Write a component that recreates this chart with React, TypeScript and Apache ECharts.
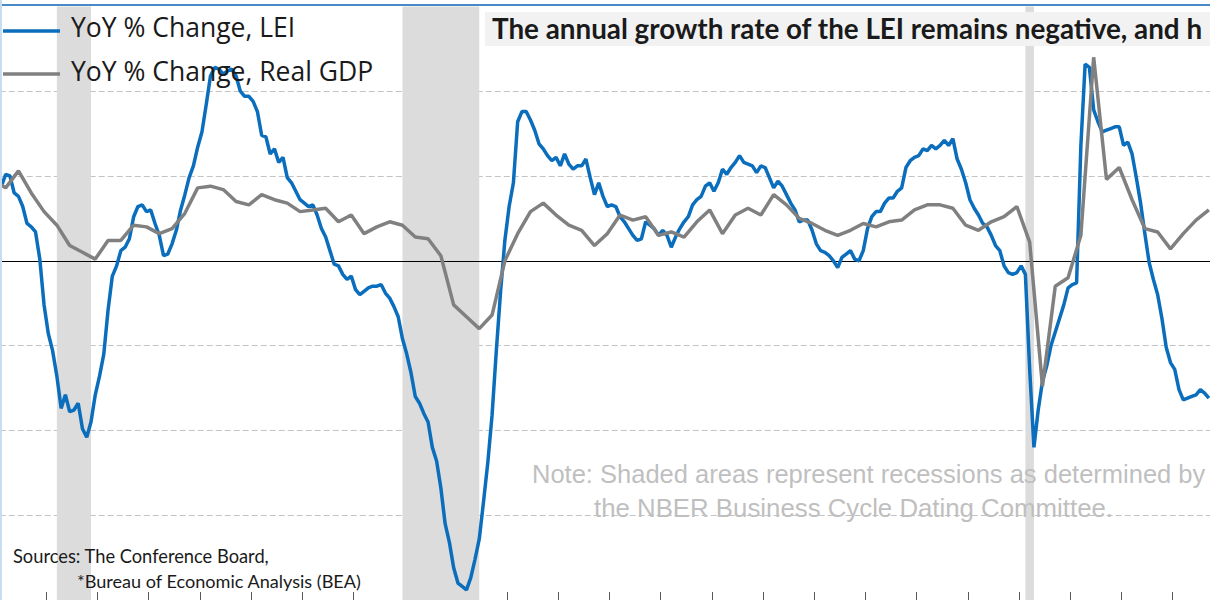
import React, { useEffect, useRef } from "react";
import * as echarts from "echarts";

// ---- LEI, YoY % change, monthly (Dec 1999 .. Sep 2023) ----
const lei1999 = [5.6];
const lei2000 = [5.8, 4.4, 5.1, 5.0, 4.0, 3.8, 3.2, 2.2, 2.0, 1.7, 0.1, -2.6];
const lei2001 = [-4.3, -5.3, -6.8, -8.7, -7.9, -8.9, -8.8, -8.4, -9.9, -10.4, -9.5, -7.9];
const lei2002 = [-6.8, -5.5, -2.9, -0.9, -0.3, 0.6, 0.8, 1.3, 2.6, 3.2, 3.3, 2.9];
const lei2003 = [3.0, 2.2, 1.5, 0.3, 0.4, 1.0, 1.8, 3.0, 3.9, 4.9, 5.6, 6.7];
const lei2004 = [7.6, 9.2, 10.9, 11.4, 11.3, 11.0, 11.2, 11.3, 10.9, 10.0, 9.7, 9.7];
const lei2005 = [9.4, 8.8, 7.4, 7.3, 6.3, 6.6, 5.8, 6.1, 4.9, 4.6, 4.1, 3.6];
const lei2006 = [3.4, 3.2, 3.3, 2.7, 1.9, 1.4, 0.6, -0.2, -0.3, -0.8, -1.1, -0.9];
const lei2007 = [-1.7, -2.0, -1.8, -1.6, -1.5, -1.5, -1.4, -1.9, -2.2, -2.7, -3.3, -4.6];
const lei2008 = [-5.5, -6.6, -8.0, -8.4, -9.0, -9.5, -11.0, -11.8, -13.4, -15.5, -16.6, -18.1];
const lei2009 = [-19.0, -19.2, -19.4, -18.7, -17.6, -16.4, -14.2, -11.9, -9.1, -5.3, -1.8, 1.2];
const lei2010 = [3.2, 4.6, 8.2, 8.8, 8.8, 8.3, 7.7, 6.9, 6.6, 6.2, 5.9, 6.1];
const lei2011 = [5.6, 6.3, 5.7, 5.4, 5.6, 5.6, 6.0, 4.9, 3.9, 4.6, 3.8, 3.2];
const lei2012 = [3.3, 3.2, 2.6, 2.3, 1.9, 1.5, 1.2, 1.3, 2.3, 2.1, 1.9, 1.5];
const lei2013 = [1.8, 1.5, 0.8, 1.4, 1.9, 2.3, 2.6, 3.3, 3.6, 3.8, 4.4, 4.6];
const lei2014 = [4.1, 4.6, 5.4, 5.1, 5.5, 5.8, 6.2, 5.8, 5.7, 5.6, 5.2, 5.6];
const lei2015 = [5.5, 4.9, 4.3, 4.7, 4.4, 3.9, 3.4, 3.0, 2.3, 2.4, 2.4, 1.8];
const lei2016 = [1.0, 0.6, 0.5, 0.3, 0.0, -0.4, 0.2, 0.4, 0.6, 0.1, 0.0, 0.6];
const lei2017 = [1.9, 2.6, 2.9, 2.9, 3.4, 3.7, 3.7, 4.1, 4.3, 5.5, 5.9, 6.1];
const lei2018 = [6.2, 6.6, 6.5, 6.8, 6.6, 6.8, 7.1, 6.8, 7.2, 6.0, 5.4, 4.6];
const lei2019 = [3.6, 3.1, 2.7, 2.2, 2.0, 1.5, 0.9, 0.6, -0.3, -0.7, -0.8, -0.7];
const lei2020 = [-0.3, -0.8, -6.4, -11.0, -8.8, -7.1, -6.2, -5.0, -4.2, -3.4, -2.6, -1.6];
const lei2021 = [-1.4, -1.3, 6.8, 11.6, 11.4, 8.9, 8.2, 7.6, 7.7, 7.8, 7.9, 7.9];
const lei2022 = [6.8, 7.0, 6.3, 4.9, 3.4, 1.6, -0.1, -1.1, -2.0, -3.4, -5.1, -6.0];
const lei2023 = [-6.4, -7.6, -8.2, -8.1, -8.0, -7.9, -7.6, -7.8, -8.1];

// ---- Real GDP, YoY % change, quarterly (Dec 1999 .. Sep 2023) ----
const gdp1999 = [4.8];
const gdp2000 = [4.3, 5.3, 4.0, 2.9];
const gdp2001 = [2.1, 0.9, 0.5, 0.1];
const gdp2002 = [1.2, 1.2, 2.1, 2.0];
const gdp2003 = [1.6, 1.9, 2.8, 4.3];
const gdp2004 = [4.4, 4.2, 3.5, 3.3];
const gdp2005 = [3.9, 3.6, 3.4, 2.9];
const gdp2006 = [3.0, 3.1, 2.3, 2.7];
const gdp2007 = [1.6, 2.0, 2.3, 2.1];
const gdp2008 = [1.4, 1.3, 0.3, -2.6];
const gdp2009 = [-3.3, -4.0, -3.2, 0.0];
const gdp2010 = [1.6, 2.9, 3.4, 2.7];
const gdp2011 = [2.1, 1.8, 0.9, 1.6];
const gdp2012 = [2.7, 2.4, 2.6, 1.5];
const gdp2013 = [1.7, 1.4, 2.3, 3.0];
const gdp2014 = [1.6, 2.7, 3.1, 2.7];
const gdp2015 = [3.9, 3.3, 2.5, 2.2];
const gdp2016 = [1.8, 1.5, 1.8, 2.2];
const gdp2017 = [2.0, 2.3, 2.4, 3.0];
const gdp2018 = [3.3, 3.3, 3.1, 2.1];
const gdp2019 = [1.8, 2.3, 2.6, 3.2];
const gdp2020 = [1.1, -7.4, -1.5, -1.0];
const gdp2021 = [1.5, 12.0, 4.8, 5.5];
const gdp2022 = [3.6, 1.9, 1.7, 0.7];
const gdp2023 = [1.6, 2.4, 3.0];

// NBER recessions (first and last month)
const recessionStarts = ["2001-03", "2007-12", "2020-02"];
const recessionEnds = ["2001-11", "2009-06", "2020-04"];

// y axis
const yMin = -20;
const yMax = 15;
const yStep = 5;

const legendLabels = ["YoY % Change, LEI", "YoY % Change, Real GDP"];
const titleText = "The annual growth rate of the LEI remains negative, and h";
const noteLines = [
  "Note: Shaded areas represent recessions as determined by",
  "the NBER Business Cycle Dating Committee.",
];
const sourceLines = ["Sources: The Conference Board,", "*Bureau of Economic Analysis (BEA)"];

const LEI_COLOR = "#0A6EBD";
const GDP_COLOR = "#808080";

const pad = (n: number) => (n < 10 ? "0" + n : "" + n);

const leiYears = [
  lei1999, lei2000, lei2001, lei2002, lei2003, lei2004, lei2005, lei2006, lei2007,
  lei2008, lei2009, lei2010, lei2011, lei2012, lei2013, lei2014, lei2015, lei2016,
  lei2017, lei2018, lei2019, lei2020, lei2021, lei2022, lei2023,
];
const gdpYears: [number, number[]][] = [
  [1999, gdp1999], [2000, gdp2000], [2001, gdp2001], [2002, gdp2002], [2003, gdp2003],
  [2004, gdp2004], [2005, gdp2005], [2006, gdp2006], [2007, gdp2007], [2008, gdp2008],
  [2009, gdp2009], [2010, gdp2010], [2011, gdp2011], [2012, gdp2012], [2013, gdp2013],
  [2014, gdp2014], [2015, gdp2015], [2016, gdp2016], [2017, gdp2017], [2018, gdp2018],
  [2019, gdp2019], [2020, gdp2020], [2021, gdp2021], [2022, gdp2022], [2023, gdp2023],
];

const leiValues: number[] = ([] as number[]).concat(...leiYears);
const firstMonthIndex = 1999 * 12 + 11; // Dec 1999
const categories = leiValues.map((_, i) => {
  const t = firstMonthIndex + i;
  return `${Math.floor(t / 12)}-${pad((t % 12) + 1)}`;
});
const gdpMap = new Map<string, number>();
gdpYears.forEach(([y, arr]) => {
  const months = y === 1999 ? [12] : [3, 6, 9, 12];
  arr.forEach((v, i) => gdpMap.set(`${y}-${pad(months[i])}`, v));
});
const gdpValues = categories.map((c) => (gdpMap.has(c) ? (gdpMap.get(c) as number) : null));

// the chart canvas is wider than the page and shifted left, so that the
// first (partly hidden) month starts just outside the visible frame
const SHIFT = 10;

export default function App() {
  const ref = useRef<HTMLDivElement>(null);
  useEffect(() => {
    if (!ref.current) return;
    const chart = echarts.init(ref.current, undefined, { renderer: "svg" });
    const legendFont = "26.5px 'Open Sans'";
    const X = (x: number) => x + SHIFT;
    chart.setOption({
      animation: false,
      backgroundColor: "#ffffff",
      grid: { left: SHIFT - 9.27, right: 0, top: 6.4, bottom: 0, containLabel: false },
      xAxis: {
        type: "category",
        data: categories,
        boundaryGap: true,
        axisLine: { show: false, onZero: false },
        axisLabel: { show: false },
        axisTick: {
          show: true,
          inside: true,
          length: 8,
          interval: (_i: number, v: string) => v.endsWith("-01"),
          lineStyle: { color: "#595959", width: 1 },
        },
        splitLine: { show: false },
      },
      yAxis: {
        type: "value",
        min: yMin,
        max: yMax,
        interval: yStep,
        axisLine: { show: false },
        axisTick: { show: false },
        axisLabel: { show: false },
        splitLine: {
          show: true,
          showMinLine: false,
          showMaxLine: false,
          lineStyle: { color: "#C3C3C3", width: 1, type: [6, 3] },
        },
      },
      series: [
        {
          name: legendLabels[0],
          type: "line",
          data: leiValues,
          symbol: "none",
          z: 3,
          lineStyle: { color: LEI_COLOR, width: 3.5 },
          itemStyle: { color: LEI_COLOR },
          markArea: {
            silent: true,
            itemStyle: { color: "#DCDCDC" },
            data: recessionStarts.map((s, i) => [{ xAxis: s }, { xAxis: recessionEnds[i] }]),
          },
        },
        {
          name: legendLabels[1],
          type: "line",
          data: gdpValues,
          connectNulls: true,
          symbol: "none",
          z: 4,
          lineStyle: { color: GDP_COLOR, width: 3.5 },
          itemStyle: { color: GDP_COLOR },
          markLine: {
            silent: true,
            z: 2,
            symbol: "none",
            label: { show: false },
            lineStyle: { color: "#000000", width: 1, type: "solid" },
            data: [{ yAxis: 0 }],
          },
        },
      ],
      graphic: [
        { type: "rect", z: 100, shape: { x: X(0), y: 4, width: 1210, height: 2 }, style: { fill: "#4A89C8" } },
        { type: "rect", z: 100, shape: { x: X(0), y: 0, width: 2, height: 600 }, style: { fill: "#C9DDF0" } },
        { type: "rect", z: 90, shape: { x: X(485), y: 12, width: 730, height: 34 }, style: { fill: "#F2F2F2" } },
        {
          type: "text", z: 95, x: X(492), y: 28,
          style: { text: titleText, font: "bold 27.8px Lato", fill: "#1A1A1A", verticalAlign: "middle", align: "left" },
        },
        { type: "line", z: 95, shape: { x1: X(3), y1: 31, x2: X(60), y2: 31 }, style: { stroke: LEI_COLOR, lineWidth: 3.5 } },
        { type: "line", z: 95, shape: { x1: X(3), y1: 74, x2: X(60), y2: 74 }, style: { stroke: GDP_COLOR, lineWidth: 3.5 } },
        {
          type: "text", z: 95, x: X(71), y: 27,
          style: { text: legendLabels[0], font: legendFont, fill: "#1A1A1A", verticalAlign: "middle", align: "left" },
        },
        {
          type: "text", z: 95, x: X(71), y: 71,
          style: { text: legendLabels[1], font: legendFont, fill: "#1A1A1A", verticalAlign: "middle", align: "left" },
        },
        {
          type: "text", z: 95, x: X(532), y: 474,
          style: { text: noteLines[0], font: "25.5px 'Liberation Sans'", fill: "#BFBFBF", verticalAlign: "middle", align: "left" },
        },
        {
          type: "text", z: 95, x: X(594), y: 508,
          style: { text: noteLines[1], font: "25.8px 'Liberation Sans'", fill: "#BFBFBF", verticalAlign: "middle", align: "left" },
        },
        {
          type: "text", z: 95, x: X(13), y: 556,
          style: { text: sourceLines[0], font: "18.3px Lato", fill: "#1A1A1A", verticalAlign: "middle", align: "left" },
        },
        {
          type: "text", z: 95, x: X(77), y: 581,
          style: { text: sourceLines[1], font: "18.1px Lato", fill: "#1A1A1A", verticalAlign: "middle", align: "left" },
        },
      ],
    });
    return () => chart.dispose();
  }, []);
  return (
    <div style={{ position: "absolute", left: 0, top: 0, width: 1210, height: 600, overflow: "hidden", background: "#fff" }}>
      <div
        ref={ref}
        style={{ position: "absolute", left: -SHIFT, top: 0, width: 1210 + SHIFT + 1, height: 600 }}
      />
    </div>
  );
}
